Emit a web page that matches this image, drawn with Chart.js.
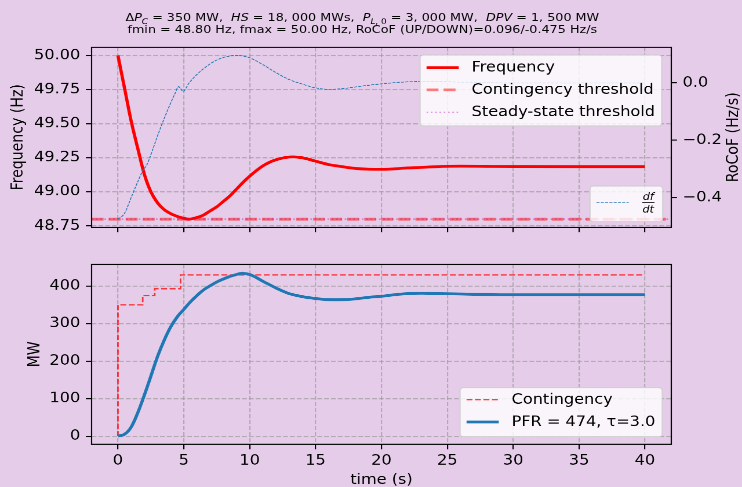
<!DOCTYPE html>
<html>
<head>
<meta charset="utf-8">
<script src="https://cdn.jsdelivr.net/npm/chart.js@4.4.1/dist/chart.umd.min.js"></script>
<style>
html,body{margin:0;padding:0;background:#e5cce9;width:742px;height:487px;overflow:hidden;}
#wrap{position:absolute;left:0;top:0;width:640px;height:480px;transform:scale(1.159375,1.0145833);transform-origin:0 0;font-family:'DejaVu Sans',sans-serif;color:#000;}
.ttl{position:absolute;left:0;width:625px;text-align:center;font-size:11px;line-height:11px;white-space:nowrap;}
.sb{font-size:7.7px;position:relative;top:2.6px;}
canvas{position:absolute;left:0;top:0;}
</style>
</head>
<body>
<div id="wrap">
  <div class="ttl" style="top:12.2px">Δ<i>P</i><span class="sb"><i>C</i></span> = 350 MW,&nbsp; <i>HS</i> = 18, 000 MWs,&nbsp; <i>P</i><span class="sb"><i>L</i>, 0</span> = 3, 000 MW,&nbsp; <i>DPV</i> = 1, 500 MW</div>
  <div class="ttl" style="top:24.2px">fmin = 48.80 Hz, fmax = 50.00 Hz, RoCoF (UP/DOWN)=0.096/-0.475 Hz/s</div>
  <canvas id="c1" width="640" height="480"></canvas>
  <canvas id="c2" width="640" height="480"></canvas>
</div>
<script>
// ---------------- data ----------------
const tFreq  = [0, 0.5, 1, 1.5, 2, 2.5, 3, 3.5, 4, 4.5, 5, 5.4, 6, 6.5, 7, 7.5, 8, 8.5, 9, 9.5, 10, 11, 12, 13.3, 14, 15, 16, 17, 18, 19, 20, 22, 24, 26, 28, 30, 35, 40];
const freqHz = [50.00, 49.76, 49.52, 49.32, 49.13, 49.00, 48.92, 48.87, 48.84, 48.82, 48.806, 48.80, 48.812, 48.83, 48.86, 48.89, 48.93, 48.97, 49.02, 49.07, 49.115, 49.19, 49.235, 49.256, 49.25, 49.225, 49.20, 49.185, 49.172, 49.166, 49.165, 49.175, 49.184, 49.188, 49.187, 49.186, 49.185, 49.185];

const tRocof = [0, 0.5, 1, 1.5, 1.9, 2.2, 2.5, 3, 3.5, 4, 4.3, 4.6, 4.95, 5.4, 6, 6.5, 7, 7.5, 8, 8.5, 9, 9.5, 10, 11, 12, 13, 14, 15, 16, 17, 18, 19, 20, 22, 24, 26, 28, 30, 35, 40];
const rocofHzS = [-0.475, -0.455, -0.40, -0.345, -0.305, -0.285, -0.25, -0.185, -0.125, -0.07, -0.04, -0.013, -0.029, 0.0, 0.03, 0.05, 0.067, 0.08, 0.089, 0.094, 0.096, 0.094, 0.088, 0.064, 0.036, 0.012, -0.004, -0.017, -0.022, -0.02, -0.014, -0.008, -0.003, 0.004, 0.005, 0.003, 0.001, 0.0, 0.0, 0.0];

const contThresholdHz = 48.80;
const steadyThresholdHz = 48.80;

const tPfr  = [0, 0.5, 1, 1.5, 2, 2.5, 3, 3.5, 4, 4.5, 5, 5.5, 6, 6.5, 7, 7.5, 8, 8.5, 9, 9.3, 9.6, 10, 10.5, 11, 11.5, 12, 12.5, 13, 14, 15, 16, 17, 18, 19, 20, 21, 22, 23, 24, 26, 28, 30, 35, 40];
const pfrMW = [0, 5, 24, 62, 109, 160, 212, 255, 291, 318, 338, 358, 375, 390, 401, 411, 419, 426, 431, 434, 434, 431, 423, 413, 404, 395, 387, 380, 372, 367, 364, 364, 366, 370, 373, 377, 380, 381, 380.5, 379, 377.5, 377, 377, 377];

const tCont  = [0, 0, 1.88, 2.79, 4.75, 40];
const contMW = [0, 350, 375, 393, 430, 430];

const timeTicks  = [0, 5, 10, 15, 20, 25, 30, 35, 40];
const freqTicks  = [48.75, 49.00, 49.25, 49.50, 49.75, 50.00];
const rocofTicks = [-0.4, -0.2, 0.0];
const mwTicks    = [0, 100, 200, 300, 400];

const freqLabel = 'Frequency';
const contThLabel = 'Contingency threshold';
const steadyThLabel = 'Steady-state threshold';
const rocofLabel = 'df/dt';
const contLabel = 'Contingency';
const pfrLabel = 'PFR = 474, τ=3.0';

// ---------------- style ----------------
const FS = 13.9;
const FONT = '"DejaVu Sans", sans-serif';
Chart.defaults.font.family = FONT;
Chart.defaults.font.size = FS;
Chart.defaults.color = '#000';
const GRID = 'rgba(150,150,150,0.65)';
const TICKLEN = 4.9;

function xy(ts, vs) { return ts.map((t, i) => ({x: t, y: vs[i]})); }
function fixedTicks(arr) { return s => { s.ticks = arr.map(v => ({value: v})); }; }

function gridOpts(onArea) {
  return {display: true, drawOnChartArea: onArea, color: GRID, lineWidth: 1.1,
          drawTicks: true, tickLength: TICKLEN, tickColor: '#000', tickWidth: 1.1};
}
const borderOpts = {display: false, dash: [4.1, 1.8]};

const framePlugin = {
  id: 'frame',
  afterDatasetsDraw(chart) {
    const {ctx, chartArea: a} = chart;
    ctx.save();
    ctx.strokeStyle = '#000';
    ctx.lineWidth = 1.1;
    ctx.strokeRect(a.left, a.top, a.right - a.left, a.bottom - a.top);
    ctx.restore();
  }
};

function legendBox(ctx, x, y, w, h) {
  ctx.save();
  ctx.beginPath();
  ctx.roundRect(x, y, w, h, 2.8);
  ctx.fillStyle = 'rgba(255,255,255,0.8)';
  ctx.fill();
  ctx.strokeStyle = 'rgba(204,204,204,0.8)';
  ctx.lineWidth = 1.1;
  ctx.stroke();
  ctx.restore();
}
function legendHandle(ctx, ds, x1, x2, y) {
  ctx.save();
  ctx.strokeStyle = ds.borderColor;
  ctx.lineWidth = ds.borderWidth;
  ctx.setLineDash(ds.borderDash || []);
  ctx.beginPath();
  ctx.moveTo(x1, y); ctx.lineTo(x2, y);
  ctx.stroke();
  ctx.restore();
}
function legendText(ctx, txt, x, y) {
  ctx.save();
  ctx.font = FS + 'px ' + FONT;
  ctx.fillStyle = '#000';
  ctx.textAlign = 'left';
  ctx.textBaseline = 'middle';
  ctx.fillText(txt, x, y);
  ctx.restore();
}

// ---------------- top chart ----------------
const topDecor = {
  id: 'topDecor',
  afterDraw(chart) {
    const ctx = chart.ctx;
    const a = chart.chartArea;
    const ds = chart.data.datasets;
    const byLabel = l => ds.find(d => d.label === l);
    // main legend
    legendBox(ctx, 362.3, 54.2, 208.4, 70);
    [[freqLabel, 67], [contThLabel, 89], [steadyThLabel, 111]].forEach(([l, y]) => {
      legendHandle(ctx, byLabel(l), 367.9, 395.7, y - 0.4);
      legendText(ctx, l, 406.8, y);
    });
    // df/dt legend
    legendBox(ctx, 508.9, 183.3, 62.7, 35.2);
    legendHandle(ctx, byLabel(rocofLabel), 514.5, 542.3, 199.4);
    const parts = rocofLabel.split('/');
    ctx.save();
    ctx.font = 'italic 9.7px ' + FONT;
    ctx.fillStyle = '#000';
    ctx.textAlign = 'center';
    ctx.textBaseline = 'alphabetic';
    ctx.fillText(parts[0], 559.1, 197.0);
    ctx.fillText(parts[1], 559.1, 209.3);
    ctx.fillRect(553.9, 199.1, 10.6, 0.8);
    ctx.restore();
    // right axis title (reads bottom to top)
    ctx.save();
    ctx.translate(633.1, (a.top + a.bottom) / 2);
    ctx.rotate(-Math.PI / 2);
    ctx.font = FS + 'px ' + FONT;
    ctx.fillStyle = '#000';
    ctx.textAlign = 'center';
    ctx.textBaseline = 'middle';
    ctx.fillText('RoCoF (Hz/s)', 0, 0);
    ctx.restore();
  }
};

new Chart(document.getElementById('c1'), {
  type: 'line',
  data: {
    datasets: [
      {label: rocofLabel, data: xy(tRocof, rocofHzS), yAxisID: 'y2', order: 0,
       borderColor: '#1f77b4', borderWidth: 0.8, borderDash: [2.6, 1.1],
       pointRadius: 0, cubicInterpolationMode: 'monotone', fill: false},
      {label: steadyThLabel, data: [{x: -2, y: steadyThresholdHz}, {x: 42, y: steadyThresholdHz}], yAxisID: 'y', order: 1,
       borderColor: 'rgba(191,0,191,0.45)', borderWidth: 1.3, borderDash: [1.4, 2.3],
       pointRadius: 0, fill: false},
      {label: contThLabel, data: [{x: -2, y: contThresholdHz}, {x: 42, y: contThresholdHz}], yAxisID: 'y', order: 2,
       borderColor: 'rgba(255,0,0,0.5)', borderWidth: 2.78, borderDash: [10.3, 4.4],
       pointRadius: 0, fill: false},
      {label: freqLabel, data: xy(tFreq, freqHz), yAxisID: 'y', order: 3,
       borderColor: '#ff0000', borderWidth: 2.78,
       pointRadius: 0, cubicInterpolationMode: 'monotone', fill: false}
    ]
  },
  options: {
    responsive: false, animation: false, devicePixelRatio: 2,
    layout: {padding: {top: 46.6, bottom: 246, left: 0, right: 0}},
    plugins: {legend: {display: false}, tooltip: {enabled: false}, title: {display: false}},
    scales: {
      x: {type: 'linear', min: -2, max: 42, afterBuildTicks: fixedTicks(timeTicks),
          ticks: {display: false}, grid: gridOpts(true), border: borderOpts,
          afterFit: s => { s.height = 10; }},
      y: {type: 'linear', position: 'left', min: 48.74, max: 50.06, afterBuildTicks: fixedTicks(freqTicks),
          ticks: {callback: v => Number(v).toFixed(2), padding: 4.9, color: '#000', font: {size: FS}},
          grid: gridOpts(true), border: borderOpts,
          title: {display: true, text: 'Frequency (Hz)', color: '#000', font: {size: FS}, padding: {top: 7.5, bottom: 0}},
          afterFit: s => { s.width = 79; }},
      y2: {type: 'linear', position: 'right', min: -0.5036, max: 0.1246, afterBuildTicks: fixedTicks(rocofTicks),
          ticks: {callback: v => (v < -1e-9 ? '\u2212' : '') + Math.abs(v).toFixed(1), padding: 4.9, color: '#000', font: {size: FS}},
          grid: gridOpts(false), border: borderOpts,
          afterFit: s => { s.width = 61; }}
    }
  },
  plugins: [framePlugin, topDecor]
});

// ---------------- bottom chart ----------------
const bottomDecor = {
  id: 'bottomDecor',
  afterDraw(chart) {
    const ctx = chart.ctx;
    const ds = chart.data.datasets;
    const byLabel = l => ds.find(d => d.label === l);
    legendBox(ctx, 396.8, 382.1, 174.4, 48.3);
    [[contLabel, 394.3], [pfrLabel, 416.3]].forEach(([l, y]) => {
      legendHandle(ctx, byLabel(l), 402.4, 430.2, y - 0.4);
      legendText(ctx, l, 441.3, y);
    });
  }
};

new Chart(document.getElementById('c2'), {
  type: 'line',
  data: {
    datasets: [
      {label: pfrLabel, data: xy(tPfr, pfrMW), order: 0,
       borderColor: '#1f77b4', borderWidth: 2.78,
       pointRadius: 0, tension: 0.35, fill: false},
      {label: contLabel, data: xy(tCont, contMW), order: 1, stepped: 'before',
       borderColor: 'rgba(255,0,0,0.75)', borderWidth: 1.39, borderDash: [5.1, 2.2],
       pointRadius: 0, fill: false}
    ]
  },
  options: {
    responsive: false, animation: false, devicePixelRatio: 2,
    layout: {padding: {top: 260.5, bottom: 0, left: 0, right: 61}},
    plugins: {legend: {display: false}, tooltip: {enabled: false}, title: {display: false}},
    scales: {
      x: {type: 'linear', min: -2, max: 42, afterBuildTicks: fixedTicks(timeTicks),
          ticks: {callback: v => String(v), padding: 3.4, color: '#000', font: {size: FS}, maxRotation: 0, autoSkip: false},
          grid: gridOpts(true), border: borderOpts,
          title: {display: true, text: 'time (s)', color: '#000', font: {size: FS}, padding: {top: 0, bottom: -1.6}},
          afterFit: s => { s.height = 42.1; }},
      y: {type: 'linear', position: 'left', min: -21.8, max: 458.2, afterBuildTicks: fixedTicks(mwTicks),
          ticks: {callback: v => String(v), padding: 4.9, color: '#000', font: {size: FS}},
          grid: gridOpts(true), border: borderOpts,
          title: {display: true, text: 'MW', color: '#000', font: {size: FS}, padding: {top: 21.9, bottom: 0}},
          afterFit: s => { s.width = 79; }}
    }
  },
  plugins: [framePlugin, bottomDecor]
});
</script>
</body>
</html>
